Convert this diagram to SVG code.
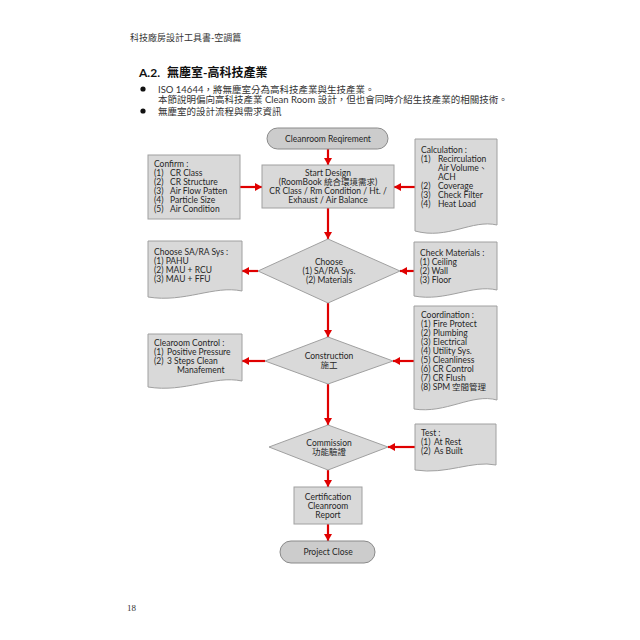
<svg xmlns="http://www.w3.org/2000/svg" width="640" height="640" viewBox="0 0 640 640">
<style>
  .bg{fill:#ffffff}
  .box{fill:#d9d9d9;stroke:#a0a0a0;stroke-width:1}
  .oval{fill:#cccccc;stroke:#8a8a8a;stroke-width:1}
  .t{font-family:"Lato","Noto Sans CJK TC",sans-serif;font-size:8.5px;fill:#262626}
  .c{text-anchor:middle}
  .hd{font-family:"Lato","Noto Sans CJK TC",sans-serif;font-size:9px;fill:#333}
  .body{font-family:"Lato","Noto Sans CJK TC",sans-serif;font-size:9.5px;fill:#333}
  .title{font-family:"Lato","Noto Sans CJK TC",sans-serif;font-size:12px;font-weight:bold;fill:#111}
  .arr{stroke:#e00000;stroke-width:2.2;fill:none;marker-end:url(#ah)}
</style>
<defs>
  <marker id="ah" markerUnits="userSpaceOnUse" markerWidth="8" markerHeight="8" refX="7" refY="4" orient="auto">
    <path d="M0,0 L7,4 L0,8 Z" fill="#e00000"/>
  </marker>
</defs>
<rect class="bg" x="0" y="0" width="640" height="640"/>

<text class="hd" x="130" y="41">科技廠房設計工具書-空調篇</text>
<text class="title" x="139" y="77">A.2.<tspan x="167">無塵室-高科技產業</tspan></text>
<circle cx="143" cy="89" r="2.6" fill="#111"/>
<text class="body" x="158" y="92.5">ISO 14644，將無塵室分為高科技產業與生技產業。</text>
<text class="body" x="158" y="103">本節說明偏向高科技產業 Clean Room 設計，但也會同時介紹生技產業的相關技術。</text>
<circle cx="143" cy="111" r="2.6" fill="#111"/>
<text class="body" x="158" y="114.5">無塵室的設計流程與需求資訊</text>

<g id="connectors">
  <line class="arr" x1="328" y1="149" x2="328" y2="165"/>
  <line class="arr" x1="240" y1="187" x2="262" y2="187"/>
  <line class="arr" x1="415" y1="187" x2="394" y2="187"/>
  <line class="arr" x1="328" y1="208" x2="328" y2="239"/>
  <line class="arr" x1="258" y1="271" x2="242" y2="271"/>
  <line class="arr" x1="414" y1="271" x2="400" y2="271"/>
  <line class="arr" x1="328" y1="303" x2="328" y2="337"/>
  <line class="arr" x1="265" y1="361" x2="242" y2="361"/>
  <line class="arr" x1="414" y1="361" x2="393" y2="361"/>
  <line class="arr" x1="328" y1="384" x2="328" y2="425"/>
  <line class="arr" x1="415" y1="447" x2="388" y2="447"/>
  <line class="arr" x1="328" y1="470" x2="328" y2="487"/>
  <line class="arr" x1="328" y1="524" x2="328" y2="541"/>
</g>

<g id="cleanroom-req">
  <rect class="oval" x="267" y="128" width="121" height="21" rx="10.5"/>
  <text class="t c" x="328" y="141.5">Cleanroom Reqirement</text>
</g>

<g id="confirm">
  <rect class="box" x="148" y="155" width="92" height="64"/>
  <text class="t" x="154" y="167">Confirm :</text>
  <text class="t" x="154" y="176">(1)<tspan x="170">CR Class</tspan></text>
  <text class="t" x="154" y="185">(2)<tspan x="170">CR Structure</tspan></text>
  <text class="t" x="154" y="194">(3)<tspan x="170">Air Flow Patten</tspan></text>
  <text class="t" x="154" y="203">(4)<tspan x="170">Particle Size</tspan></text>
  <text class="t" x="154" y="212">(5)<tspan x="170">Air Condition</tspan></text>
</g>

<g id="start-design">
  <rect class="box" x="262" y="165" width="132" height="43"/>
  <text class="t c" x="328" y="176">Start Design</text>
  <text class="t c" x="328" y="185">(RoomBook 統合環境需求)</text>
  <text class="t c" x="328" y="194">CR Class / Rm Condition / Ht. /</text>
  <text class="t c" x="328" y="203">Exhaust / Air Balance</text>
</g>

<g id="calculation">
  <path class="box" d="M415,139 H497 V225 C472,219 448,240 415,231 Z"/>
  <text class="t" x="421" y="153">Calculation :</text>
  <text class="t" x="421" y="162">(1)<tspan x="438">Recirculation</tspan></text>
  <text class="t" x="438" y="171">Air Volume、</text>
  <text class="t" x="438" y="180">ACH</text>
  <text class="t" x="421" y="189">(2)<tspan x="438">Coverage</tspan></text>
  <text class="t" x="421" y="198">(3)<tspan x="438">Check Filter</tspan></text>
  <text class="t" x="421" y="207">(4)<tspan x="438">Heat Load</tspan></text>
</g>

<g id="choose">
  <path class="box" d="M328,239 L400,271 L328,303 L258,271 Z"/>
  <text class="t c" x="329" y="265">Choose</text>
  <text class="t c" x="329" y="274">(1) SA/RA Sys.</text>
  <text class="t c" x="329" y="283">(2) Materials</text>
</g>

<g id="choose-sys">
  <path class="box" d="M148,241 H242 V291 C214,285 185,303 148,297 Z"/>
  <text class="t" x="154" y="255">Choose SA/RA Sys :</text>
  <text class="t" x="154" y="264">(1) PAHU</text>
  <text class="t" x="154" y="273">(2) MAU + RCU</text>
  <text class="t" x="154" y="282">(3) MAU + FFU</text>
</g>

<g id="check-materials">
  <path class="box" d="M414,242 H497 V290 C472,284 446,302 414,296 Z"/>
  <text class="t" x="420" y="256">Check Materials :</text>
  <text class="t" x="420" y="265">(1) Ceiling</text>
  <text class="t" x="420" y="274">(2) Wall</text>
  <text class="t" x="420" y="283">(3) Floor</text>
</g>

<g id="construction">
  <path class="box" d="M328,337 L393,361 L328,384 L265,361 Z"/>
  <text class="t c" x="329" y="359">Construction</text>
  <text class="t c" x="329" y="368">施工</text>
</g>

<g id="clearoom-control">
  <path class="box" d="M148,334 H242 V381 C214,375 185,393 148,387 Z"/>
  <text class="t" x="154" y="346">Clearoom Control :</text>
  <text class="t" x="154" y="355">(1)<tspan x="167">Positive Pressure</tspan></text>
  <text class="t" x="154" y="364">(2)<tspan x="167">3 Steps Clean</tspan></text>
  <text class="t" x="177" y="373">Manafement</text>
</g>

<g id="coordination">
  <path class="box" d="M414,306 H497 V400 C472,393 446,414 414,409 Z"/>
  <text class="t" x="421" y="318">Coordination :</text>
  <text class="t" x="421" y="327">(1)<tspan x="433">Fire Protect</tspan></text>
  <text class="t" x="421" y="336">(2)<tspan x="433">Plumbing</tspan></text>
  <text class="t" x="421" y="345">(3)<tspan x="433">Electrical</tspan></text>
  <text class="t" x="421" y="354">(4) Utility Sys.</text>
  <text class="t" x="421" y="363">(5) Cleanliness</text>
  <text class="t" x="421" y="372">(6) CR Control</text>
  <text class="t" x="421" y="381">(7) CR Flush</text>
  <text class="t" x="421" y="390">(8) SPM<tspan x="452">空間管理</tspan></text>
</g>

<g id="commission">
  <path class="box" d="M328,425 L388,447 L328,470 L269,447 Z"/>
  <text class="t c" x="329" y="446">Commission</text>
  <text class="t c" x="329" y="455">功能驗證</text>
</g>

<g id="test">
  <path class="box" d="M415,424 H496 V465 C472,460 447,475 415,470 Z"/>
  <text class="t" x="421" y="436">Test :</text>
  <text class="t" x="421" y="445">(1)<tspan x="434">At Rest</tspan></text>
  <text class="t" x="421" y="454">(2)<tspan x="434">As Built</tspan></text>
</g>

<g id="certification">
  <rect class="box" x="294" y="487" width="68" height="37"/>
  <text class="t c" x="328" y="500">Certification</text>
  <text class="t c" x="328" y="509">Cleanroom</text>
  <text class="t c" x="328" y="518">Report</text>
</g>

<g id="project-close">
  <rect class="oval" x="280" y="541" width="95" height="22" rx="11"/>
  <text class="t c" x="328" y="555">Project Close</text>
</g>

<text x="127" y="611" style="font-family:'Liberation Serif',serif;font-size:9px;fill:#333">18</text>
</svg>
